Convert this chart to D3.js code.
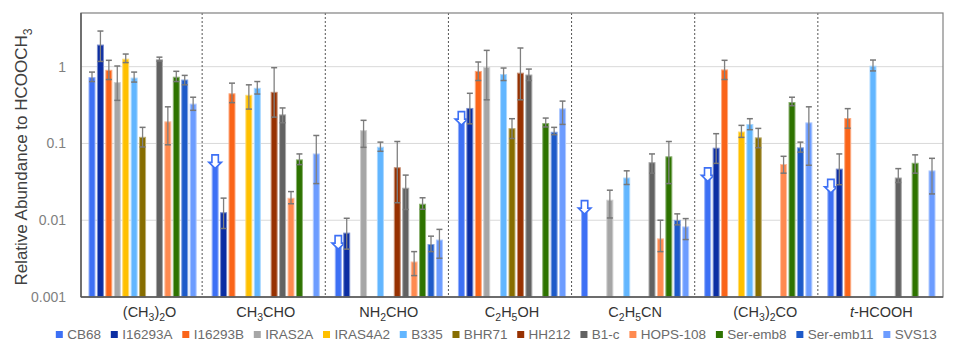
<!DOCTYPE html>
<html><head><meta charset="utf-8">
<script src="https://cdn.jsdelivr.net/npm/d3@7"></script>
<style>
html,body{margin:0;padding:0;background:#fff;}
svg{display:block;font-family:"Liberation Sans",Arial,sans-serif;}
</style></head>
<body>
<svg id="chart" width="969" height="352"></svg>
<script>
// ---------------- data ----------------
const categories = ["(CH_3)_2O","CH_3CHO","NH_2CHO","C_2H_5OH","C_2H_5CN","(CH_3)_2CO","*t*-HCOOH"];
const sources = ["CB68","I16293A","I16293B","IRAS2A","IRAS4A2","B335","BHR71","HH212","B1-c","HOPS-108","Ser-emb8","Ser-emb11","SVS13"];
const sourceColors = ["#3d70f5","#0c2ea3","#fa6419","#a6a6a6","#ffc000","#62b6ff","#876d00","#973101","#626262","#ff8a50","#2e7300","#1d5ac9","#6c9cff"];
// abundance[source][category]; null = not shown
const abundance = [
  [0.73, 0.071, 0.0063, 0.26, 0.018, 0.048, 0.034],
  [1.94, 0.0127, 0.0069, 0.29, null, 0.088, 0.047],
  [0.91, 0.45, null, 0.88, null, 0.92, 0.214],
  [0.63, null, 0.149, 0.99, 0.0185, null, null],
  [1.27, 0.43, null, null, null, 0.143, null],
  [0.72, 0.53, 0.0906, 0.80, 0.036, 0.179, 1.03],
  [0.122, null, null, 0.158, null, 0.12, null],
  [null, 0.47, 0.049, 0.835, null, null, null],
  [1.245, 0.239, 0.0265, 0.79, 0.057, null, 0.036],
  [0.194, 0.0196, 0.0029, null, 0.0058, 0.054, null],
  [0.74, 0.062, 0.0164, 0.184, 0.068, 0.346, 0.056],
  [0.68, null, 0.0049, 0.142, 0.0101, 0.089, null],
  [0.33, 0.074, 0.0056, 0.286, 0.0083, 0.188, 0.0445]
];
const errorLow = [
  [0.64, null, null, null, null, null, null],
  [1.17, 0.0078, 0.0042, 0.18, null, 0.055, 0.029],
  [0.68, 0.34, null, 0.66, null, 0.68, 0.158],
  [0.364, null, 0.089, 0.37, 0.0107, null, null],
  [1.13, 0.28, null, null, null, 0.12, null],
  [0.63, 0.44, 0.079, 0.66, 0.0292, 0.151, 0.88],
  [0.09, null, null, 0.116, null, 0.088, null],
  [null, 0.22, 0.0169, 0.37, null, null, null],
  [1.18, 0.186, 0.0138, 0.66, 0.041, null, 0.031],
  [0.096, 0.0164, 0.0019, null, 0.0039, 0.041, null],
  [0.64, 0.053, 0.0139, 0.164, 0.03, 0.31, 0.041],
  [0.58, null, 0.0039, 0.13, 0.0087, 0.077, null],
  [0.27, 0.03, 0.0032, 0.177, 0.0056, 0.052, 0.022]
];
const errorHigh = [
  [0.85, null, null, null, null, null, null],
  [2.91, 0.0194, 0.0106, 0.45, null, 0.134, 0.073],
  [1.21, 0.61, null, 1.15, null, 1.21, 0.284],
  [1.02, null, 0.2, 1.63, 0.0246, null, null],
  [1.46, 0.58, null, null, null, 0.172, null],
  [0.85, 0.64, 0.104, 0.96, 0.044, 0.21, 1.22],
  [0.162, null, null, 0.21, null, 0.157, null],
  [null, 0.97, 0.106, 1.75, null, null, null],
  [1.33, 0.29, 0.0387, 0.93, 0.073, null, 0.047],
  [0.30, 0.0236, 0.0039, null, 0.01, 0.068, null],
  [0.87, 0.073, 0.0196, 0.214, 0.106, 0.40, 0.071],
  [0.77, null, 0.0062, 0.162, 0.0121, 0.104, null],
  [0.40, 0.127, 0.0076, 0.356, 0.0105, 0.30, 0.064]
];
// upper limits (drawn with an open down arrow)
const upperLimit = [
  [false, true, true, true, true, true, true],
  [], [], [], [], [], [], [], [], [], [], [], []
];
const tickValues = [0.001, 0.01, 0.1, 1];
const tickLabels = ["0.001", "0.01", "0.1", "1"];
const yTitle = "Relative Abundance to HCOOCH_3";

// ---------------- layout ----------------
const svg = d3.select("#chart");
const plotL = 81, plotR = 943, plotT = 13, plotB = 297;

const x0 = d3.scaleBand().domain(categories).range([plotL, plotR]).paddingInner(0).paddingOuter(0);
const x1 = d3.scaleBand().domain(sources).range([7.5, x0.bandwidth() - 7.5]).paddingInner(0.17).paddingOuter(0);
const y = d3.scaleLog().domain([0.001, 5]).range([plotB, plotT]);

function rich(textSel, str, fs) {
  const s = fs * 0.3;
  let shifted = false;
  for (const m of str.matchAll(/_(\d)|\*([^*]+)\*|([^_*]+)/g)) {
    const t = textSel.append("tspan");
    if (m[1]) {
      t.text(m[1]).attr("font-size", fs * 0.72);
      if (!shifted) { t.attr("dy", s); shifted = true; }
    } else {
      t.text(m[2] || m[3]);
      if (m[2]) t.attr("font-style", "italic");
      if (shifted) { t.attr("dy", -s); shifted = false; }
    }
  }
}

// gridlines
svg.append("g").selectAll("line").data(tickValues.filter(v => v > 0.001)).join("line")
  .attr("x1", plotL).attr("x2", plotR)
  .attr("y1", d => y(d)).attr("y2", d => y(d))
  .attr("stroke", "#d9d9d9").attr("stroke-width", 1);

// y axis labels
const yAxis = d3.axisLeft(y).tickValues(tickValues).tickSize(0).tickPadding(15)
  .tickFormat((d, i) => tickLabels[i]);
const gy = svg.append("g").attr("transform", `translate(${plotL},0)`).call(yAxis);
gy.select(".domain").remove();
gy.selectAll("text").attr("font-size", 14).attr("fill", "#7f7f7f")
  .attr("font-family", "'Liberation Sans',Arial,sans-serif");

// bars
const groups = svg.append("g").selectAll("g").data(categories).join("g")
  .attr("transform", d => `translate(${x0(d)},0)`);

const bw = x1.bandwidth();
groups.each(function(cat, ci) {
  const g = d3.select(this);
  sources.forEach((src, si) => {
    const v = abundance[si][ci];
    if (v == null) return;
    const c = sourceColors[si];
    const bx = x1(src);
    g.append("rect")
      .attr("x", bx + 0.5).attr("width", bw - 1)
      .attr("y", y(v) + 0.5).attr("height", y(0.001) - y(v) - 0.5)
      .attr("fill", c)
      .attr("stroke", d3.interpolateRgb(c, "#ffffff")(0.45))
      .attr("stroke-width", 1);
    const lo = errorLow[si][ci], hi = errorHigh[si][ci];
    if (lo != null && hi != null) {
      const cx = bx + bw / 2;
      const eg = g.append("g").attr("stroke", "#777").attr("stroke-width", 1.3);
      eg.append("line").attr("x1", cx).attr("x2", cx).attr("y1", y(hi)).attr("y2", y(lo)).attr("stroke", "#808080");
      eg.append("line").attr("x1", cx - 3).attr("x2", cx + 3).attr("y1", y(hi)).attr("y2", y(hi)).attr("stroke-width", 1.5);
      eg.append("line").attr("x1", cx - 3).attr("x2", cx + 3).attr("y1", y(lo)).attr("y2", y(lo)).attr("stroke-width", 1.5);
    }
    if (upperLimit[si] && upperLimit[si][ci]) {
      const cx = bx + bw / 2, ty = y(v);
      const p = d3.path();
      p.moveTo(cx - 3.2, ty); p.lineTo(cx + 3.2, ty); p.lineTo(cx + 3.2, ty + 7.5);
      p.lineTo(cx + 6.3, ty + 7.5); p.lineTo(cx, ty + 13.5); p.lineTo(cx - 6.3, ty + 7.5);
      p.lineTo(cx - 3.2, ty + 7.5); p.closePath();
      g.append("path").attr("d", p.toString()).attr("fill", "#fff")
        .attr("stroke", c).attr("stroke-width", 1.6).attr("stroke-linejoin", "miter");
    }
  });
});

// dashed group separators
svg.append("g").selectAll("line").data(categories.slice(1)).join("line")
  .attr("x1", d => x0(d) - 2).attr("x2", d => x0(d) - 2)
  .attr("y1", plotT).attr("y2", plotB)
  .attr("stroke", "#555").attr("stroke-width", 1).attr("stroke-dasharray", "2,2");

// frame
svg.append("rect").attr("x", plotL).attr("y", plotT).attr("width", plotR - plotL).attr("height", plotB - plotT)
  .attr("fill", "none").attr("stroke", "#808080").attr("stroke-width", 1.2);
svg.append("line").attr("x1", plotL).attr("x2", plotL).attr("y1", plotT).attr("y2", plotB)
  .attr("stroke", "#555").attr("stroke-width", 1.4);
svg.append("line").attr("x1", plotL).attr("x2", plotR).attr("y1", plotB).attr("y2", plotB)
  .attr("stroke", "#555").attr("stroke-width", 1.4);

// category labels
svg.append("g").selectAll("text").data(categories).join("text")
  .attr("x", d => x0(d) + x0.bandwidth() / 2 + (d.startsWith("(") ? 7 : 0))
  .attr("y", 317)
  .attr("text-anchor", "middle").attr("font-size", 14.5).attr("fill", "#333")
  .each(function(d) { rich(d3.select(this), d, 14.5); });

// y title
const yt = svg.append("text")
  .attr("transform", `translate(27,157) rotate(-90)`)
  .attr("text-anchor", "middle").attr("font-size", 17).attr("fill", "#404040");
rich(yt, yTitle, 17);

// legend
const lg = svg.append("g");
const items = lg.selectAll("g").data(sources).join("g");
items.append("rect").attr("width", 7).attr("height", 7).attr("y", -3.5)
  .attr("fill", (d, i) => sourceColors[i]);
items.append("text").attr("x", 11.4).attr("dy", "0.35em").attr("font-size", 13.5)
  .attr("fill", "#6b6b6b").text(d => d);
let xpos = 0;
items.each(function() {
  const it = d3.select(this);
  it.attr("transform", `translate(${xpos},0)`);
  xpos += 11.4 + it.select("text").node().getComputedTextLength() + 9.8;
});
const total = xpos - 9.8;
lg.attr("transform", `translate(${496.3 - total / 2},334.5)`);
</script>
</body></html>
